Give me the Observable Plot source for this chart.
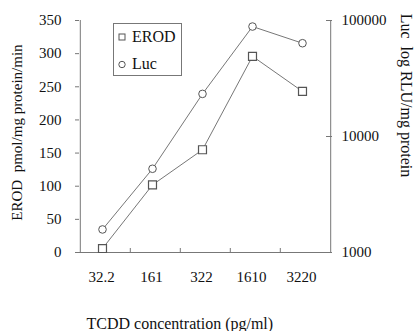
<!DOCTYPE html>
<html><head><meta charset="utf-8">
<script src="https://cdn.jsdelivr.net/npm/d3@7"></script>
<script src="https://cdn.jsdelivr.net/npm/@observablehq/plot@0.6"></script>
<style>
html,body{margin:0;padding:0;background:#fff;}
#wrap{position:relative;width:415px;height:331px;overflow:hidden;}
#wrap svg, #wrap svg text{font-family:"Liberation Serif","Times New Roman",serif !important;}
#legend{position:absolute;left:113px;top:23px;width:69px;height:53px;border:1px solid #777;box-sizing:border-box;font-family:"Liberation Serif","Times New Roman",serif;font-size:16px;color:#111;background:#fff;}
.item{position:absolute;left:4px;height:20px;display:flex;align-items:center;}
.item svg{margin-right:5px;}
.title{position:absolute;font-family:"Liberation Serif","Times New Roman",serif;line-height:15px;color:#111;white-space:pre;transform-origin:center center;}
</style></head>
<body><div id="wrap"></div>
<script>
const categories = ["32.2", "161", "322", "1610", "3220"];
const erod = [6, 102, 155, 296, 243];
const luc = [1580, 5270, 23300, 88700, 63700];
const erodTicks = [0, 50, 100, 150, 200, 250, 300, 350];
const lucTicks = [1000, 10000, 100000];
const seriesNames = ["EROD", "Luc"];
const xTitle = "TCDD concentration (pg/ml)";
const yTitle = "EROD  pmol/mg protein/min";
const y2Title = "Luc  log RLU/mg protein";

// Luc is on a log axis (1000..100000) that shares the frame with EROD (0..350)
const lucToY = v => (Math.log10(v) - 3) / 2 * 350;
const yToLuc = y => String(Math.round(Math.pow(10, 3 + y / 175)));

const erodData = categories.map((c, i) => ({c, v: erod[i]}));
const lucData = categories.map((c, i) => ({c, v: lucToY(luc[i])}));

const W = 415, H = 331, ML = 79, MR = 84, MT = 20, MB = 79;
const bw = (W - ML - MR) / categories.length;
const axisColor = "#777";
const lineColor = "#777";
const markColor = "#555";

const chart = Plot.plot({
  width: W, height: H,
  marginLeft: ML, marginRight: MR, marginTop: MT, marginBottom: MB,
  style: {fontFamily: '"Liberation Serif", serif', fontSize: "15px", color: "#111", background: "white"},
  x: {type: "band", domain: categories, padding: 0},
  y: {domain: [0, 350]},
  marks: [
    Plot.ruleY([0], {stroke: axisColor}),
    Plot.ruleX([categories[0]], {y1: 0, y2: 350, dx: -bw / 2, stroke: axisColor}),
    Plot.ruleX([categories[categories.length - 1]], {y1: 0, y2: 350, dx: bw / 2, stroke: axisColor}),
    Plot.axisY({anchor: "left", ticks: erodTicks, tickSize: 4, tickPadding: 14, stroke: axisColor, fill: "#111", label: null}),
    Plot.axisY({anchor: "right", ticks: lucTicks.map(lucToY), tickFormat: yToLuc, tickSize: 0, tickPadding: 10, fill: "#111", label: null}),
    Plot.axisY({anchor: "right", ticks: lucTicks.map(lucToY), tickSize: 6, insetRight: 6, fill: "none", stroke: axisColor, label: null}),
    Plot.axisX({ticks: categories, tickSize: 0, tickPadding: 19, dx: -4, fill: "#111", label: null}),
    Plot.axisX({ticks: categories.slice(1), tickSize: 4, insetBottom: 4, dx: -bw / 2, fill: "none", stroke: axisColor, label: null}),
    Plot.line(erodData, {x: "c", y: "v", stroke: lineColor, strokeWidth: 1, dx: -3}),
    Plot.line(lucData, {x: "c", y: "v", stroke: lineColor, strokeWidth: 1, dx: -3}),
    Plot.dot(erodData, {x: "c", y: "v", symbol: "square", r: 4.5, stroke: markColor, fill: "white", strokeWidth: 1.2, dx: -3}),
    Plot.dot(lucData, {x: "c", y: "v", symbol: "circle", r: 3.8, stroke: markColor, fill: "white", strokeWidth: 1, dx: -3})
  ]
});

const wrap = document.getElementById("wrap");
wrap.appendChild(chart);

function addTitle(text, cx, cy, rot, size) {
  const d = document.createElement("div");
  d.className = "title";
  d.style.fontSize = size + "px";
  d.textContent = text;
  wrap.appendChild(d);
  const w = d.offsetWidth, h = d.offsetHeight;
  d.style.left = (cx - w / 2) + "px";
  d.style.top = (cy - h / 2) + "px";
  if (rot) d.style.transform = "rotate(" + rot + "deg)";
}
addTitle(yTitle, 17, 132, -90, 15);
addTitle(y2Title, 406.5, 95, 90, 16);
addTitle(xTitle, 180, 323, 0, 16);

const legend = document.createElement("div");
legend.id = "legend";
const sym = [
  '<svg width="9" height="9"><rect x="1" y="1" width="6" height="6" fill="white" stroke="' + markColor + '"/></svg>',
  '<svg width="9" height="9"><circle cx="4" cy="4.5" r="3.2" fill="white" stroke="' + markColor + '"/></svg>'
];
seriesNames.forEach((name, i) => {
  const it = document.createElement("div");
  it.className = "item";
  it.style.top = (3 + i * 27) + "px";
  it.innerHTML = sym[i] + "<span>" + name + "</span>";
  legend.appendChild(it);
});
wrap.appendChild(legend);
</script>
</body></html>
